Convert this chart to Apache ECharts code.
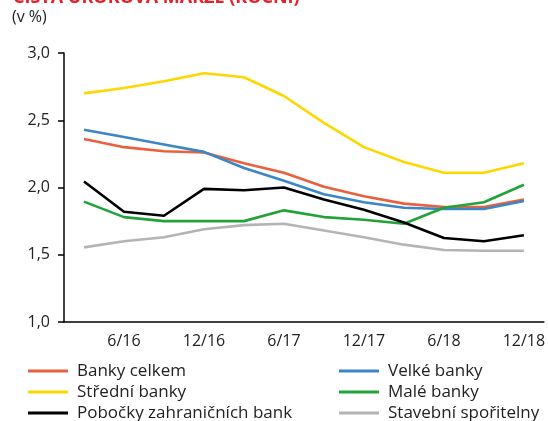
<!DOCTYPE html>
<html>
<head>
<meta charset="utf-8">
<script src="https://cdn.jsdelivr.net/npm/echarts@6/dist/echarts.min.js"></script>
<style>
  html, body { margin: 0; padding: 0; background: #fff; }
  #chart { width: 548px; height: 421px; }
</style>
</head>
<body>
<div id="chart"></div>
<script>
var categories = ['3/16', '6/16', '9/16', '12/16', '3/17', '6/17', '9/17', '12/17', '3/18', '6/18', '9/18', '12/18'];

var bankyCelkem   = [2.36, 2.30, 2.27, 2.26, 2.18, 2.11, 2.005, 1.935, 1.88, 1.855, 1.855, 1.91];
var velkeBanky    = [2.43, 2.375, 2.32, 2.265, 2.145, 2.05, 1.95, 1.89, 1.85, 1.84, 1.84, 1.90];
var stredniBanky  = [2.70, 2.74, 2.79, 2.85, 2.82, 2.68, 2.48, 2.30, 2.19, 2.11, 2.11, 2.18];
var maleBanky     = [1.895, 1.78, 1.75, 1.75, 1.75, 1.83, 1.78, 1.76, 1.73, 1.85, 1.89, 2.02];
var pobocky       = [2.045, 1.82, 1.79, 1.99, 1.98, 2.00, 1.91, 1.835, 1.74, 1.625, 1.60, 1.645];
var stavebni      = [1.555, 1.60, 1.63, 1.69, 1.72, 1.73, 1.68, 1.63, 1.575, 1.535, 1.53, 1.53];

var yTicks = [1.0, 1.5, 2.0, 2.5, 3.0];

var font = '"Open Sans", "Noto Sans", sans-serif';

function line(name, data, color) {
    return {
        name: name,
        type: 'line',
        data: data,
        symbol: 'none',
        lineStyle: { color: color, width: 2.6 },
        itemStyle: { color: color }
    };
}

function legendCol(left, names) {
    return {
        orient: 'vertical',
        left: left,
        top: 361,
        height: 120,
        padding: 0,
        itemWidth: 40,
        itemHeight: 3,
        itemGap: 1,
        icon: 'rect',
        textStyle: { fontFamily: font, fontSize: 17, lineHeight: 20, color: '#222', padding: [0, 0, 0, 4] },
        data: names
    };
}

var myChart = echarts.init(document.getElementById('chart'));

var option = {
    animation: false,
    textStyle: { fontFamily: font },
    graphic: [
        {
            type: 'text',
            left: 13,
            top: -11,
            style: {
                text: 'ČISTÁ ÚROKOVÁ MARŽE (ROČNÍ)',
                fill: '#e4202a',
                font: 'bold 18px ' + font
            }
        },
        {
            type: 'text',
            left: 12,
            top: 9,
            style: {
                text: '(v %)',
                fill: '#222',
                font: '16px ' + font
            }
        }
    ],
    legend: [
        legendCol(28, ['Banky celkem', 'Střední banky', 'Pobočky zahraničních bank']),
        legendCol(339, ['Velké banky', 'Malé banky', 'Stavební spořitelny'])
    ],
    grid: {
        left: 64,
        right: 1,
        top: 53,
        bottom: 99
    },
    xAxis: {
        type: 'category',
        boundaryGap: true,
        data: categories,
        axisLine: { lineStyle: { color: '#000', width: 1.5 } },
        axisTick: { show: false },
        axisLabel: {
            color: '#222',
            fontSize: 16,
            margin: 11,
            interval: function (i) { return i % 2 === 1; }
        }
    },
    yAxis: {
        type: 'value',
        min: yTicks[0],
        max: yTicks[yTicks.length - 1],
        interval: 0.5,
        splitLine: { show: false },
        axisLine: { show: true, lineStyle: { color: '#000', width: 1.5 } },
        axisTick: { show: true, inside: false, length: 6, lineStyle: { color: '#000', width: 1.5 } },
        axisLabel: {
            color: '#222',
            fontSize: 16,
            margin: 14,
            formatter: function (v) { return v.toFixed(1).replace('.', ','); }
        }
    },
    series: [
        line('Banky celkem', bankyCelkem, '#e8603c'),
        line('Velké banky', velkeBanky, '#3b86c6'),
        line('Střední banky', stredniBanky, '#ffd700'),
        line('Malé banky', maleBanky, '#22a33a'),
        line('Pobočky zahraničních bank', pobocky, '#000000'),
        line('Stavební spořitelny', stavebni, '#b4b4b4')
    ]
};

myChart.setOption(option);
</script>
</body>
</html>
